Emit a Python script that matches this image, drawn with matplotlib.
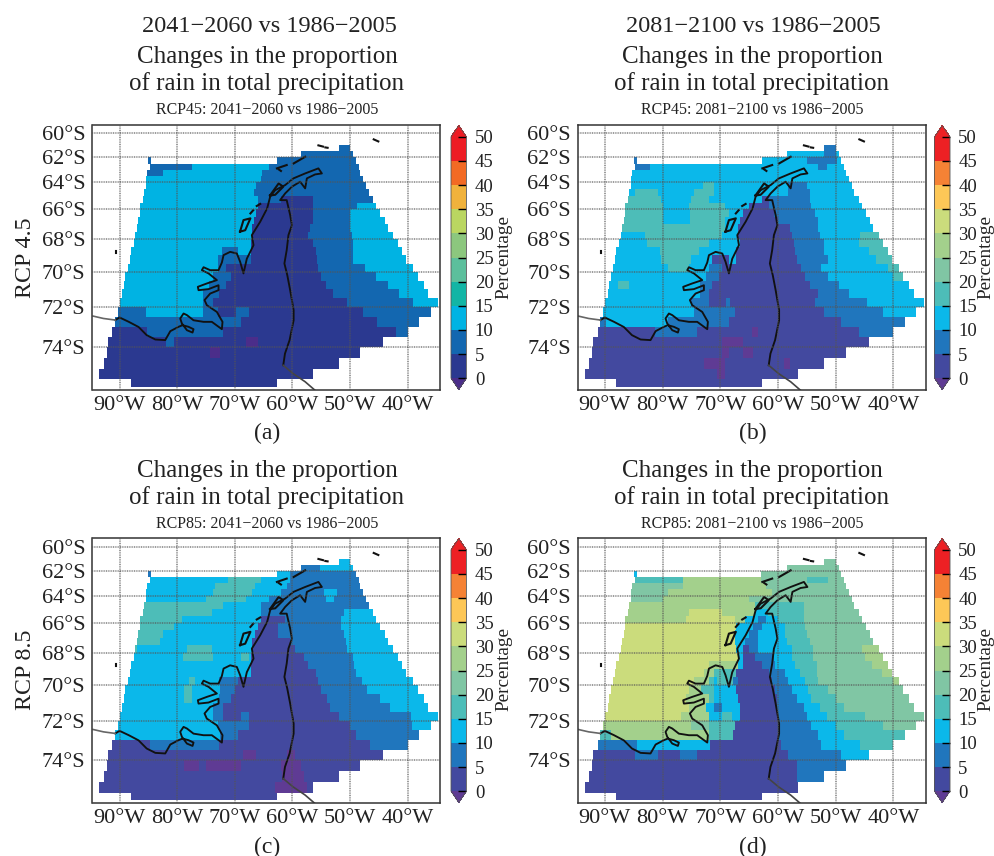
import numpy as np
import matplotlib
matplotlib.use("Agg")
import matplotlib.pyplot as plt
from matplotlib.colors import ListedColormap, BoundaryNorm

plt.rcParams['font.family'] = ['Liberation Serif', 'DejaVu Serif']

W, H = 995, 856

# 0.5 deg latitude rows, 61S to 76S
LAT_EDGES = np.append(np.arange(-61, -75.9, -0.5), -75.85)
LON_EDGES = np.arange(-95, -34, 0.25)
LON_C = 0.5 * (LON_EDGES[:-1] + LON_EDGES[1:])

# map latitude axis
LAT_TABLE = [-76, -74, -72, -70, -68, -66, -64, -62, -60, -59.28]
POS_TABLE = [0, 130, 249, 355, 453, 542, 624, 698, 770, 796]

# west and east edge of the domain in each row, degrees west
DOMAIN_W = [52.0, 58.4, 85, 84.7, 85.3, 85.4, 85.5, 85.7, 86.1, 86.4, 86.6, 86.8, 87, 87.3, 87.6,
            87.9, 88.3, 88.6, 89, 89.3, 89.6, 89.9, 90.2, 90.8, 91.3, 91.9, 92.3, 92.8, 93.4, 88]
DOMAIN_E = [49.9, 49.4, 49, 48.6, 48.2, 47.8, 47.3, 46.7, 46.1, 45.5, 44.8, 44.1, 43.4, 42.5, 41.8,
            41, 40.2, 39, 38.2, 37.3, 36.4, 34.7, 36.1, 37.9, 39.9, 44.2, 48.3, 51.9, 56.4, 62.8]

# each row: class, west longitude where it ends, class, ...
# class k means 5k to 5k+5 percent, p is below zero, . is no data
RCP45_MID = [
    "1", "1", "1 84.5 . 62.8 1",
    "1 77.5 2 63.9 1", "1 82.4 2 65.3 1", "2 65.6 1", "2 66.2 1", "2 66.8 1",
    "2 65.9 1 62.1 0 56.6 1", "2 65.9 0 56.6 1 48.8 2", "2 66.2 0 56.6 1 49.9 2",
    "2 66.8 0 56.6 1 49.9 2", "2 67 0 56.9 1 49.9 2", "2 67 0 57.2 1 49.7 2",
    "2 67.2 0 56.6 1 49.4 2", "2 72.3 1 69.6 2 67.3 0 56 1 49.4 2",
    "2 73.1 1 67.3 0 55.8 1 49.4 2", "2 73.1 1 71.4 0 55.5 1 47.4 2",
    "2 73.7 1 70.8 0 54.9 1 45.4 2", "2 74.6 1 71.4 0 54.3 1 43.4 2",
    "2 75.4 1 72.8 0 52.9 1 41.6 2", "2 75.4 1 73.7 0 50.6 1 39 2",
    "1 85.4 2 75.4 1 73.1 0 69.7 1 67.6 0 47.8 1", "1 69.1 0 45.2 1",
    "0 85.3 1 72 0 41.9 1", "0 82 1 80.5 0 68 p 66 0", "0 74.3 p 72.5 0", "0", "0", "0",
]
RCP45_END = [
    "1", "2 51.9 1 50 2", "1 84.5 . 62.8 2 55 1 49.7 2",
    "1 82.2 2 53 1 51.5 2", "2", "2", "2 72.9 3 70.9 2 58.2 1 55 2",
    "2 84.8 3 80.7 2 74.4 3 70.9 2 58.2 1 54.5 2",
    "3 80.2 2 75 3 72 2 62.8 0 61.5 1 54.4 2",
    "3 79.9 2 75.5 3 69.2 2 65.1 0 61.4 1 54.2 2",
    "3 79.9 2 75.3 3 68.6 2 66 0 60.8 1 53.6 2",
    "3 79.9 2 75.3 3 69.2 2 66.5 0 60 1 53 2",
    "3 69.2 2 67 0 58 1 53 2",
    "2 83 3 69.8 2 66.9 0 57.6 1 52.7 2 45.8 3",
    "2 82.8 3 72.1 2 66.6 0 57.3 1 52.1 2 46 3",
    "2 80.5 3 73.8 2 67.2 0 57 1 52.1 2 44.3 3",
    "2 80.2 3 75 2 71.5 0 68.6 2 67.3 0 56.7 1 51.3 2 43 3",
    "2 79 3 75.5 2 72 1 69.8 0 55.9 1 52.4 2 41 3",
    "2 72.4 1 70.3 0 55.3 1 51.3 2 40 3",
    "2 87.7 3 85.7 2 73.5 1 71.5 0 54.5 1 49.5 2",
    "2 73.5 1 72 0 53 1 47.8 2",
    "2 75 1 72.1 0 69 1 68.2 0 53.6 1 44.6 2",
    "2 74.4 1 67.4 0 51.9 1 41.7 2",
    "1 89.7 2 79 1 68.6 0 49 1",
    "0 81.3 1 73.9 0 64.6 p 63.4 0 46 1",
    "0 69.8 p 66 0", "0 69.8 p 68.6 0 66 p 64.3 0",
    "0 72.7 p 69.2 0 59 p 58 0", "0 70.6 p 69.2 0", "0",
]
RCP85_MID = [
    "2", "1 55.3 2", "1 84.5 . 62.7 2 60.5 1",
    "2 71.3 3 65.6 2 60.4 1", "2 73.4 3 66.4 2 61 1",
    "2 73.7 3 67 2 62 1 54.6 2 52.3 1", "2 75 3 68.1 2 64 1 54.3 2 52.7 1",
    "3 72 2 65.5 1", "3 74 2 65.5 1 51 2", "3 79.2 2 65.6 0 61.3 1 51.5 2",
    "3 80.5 2 66 0 62.4 1 51.4 2", "3 82.4 2 66.5 0 62.4 1 51.1 2",
    "3 83 2 67 0 60.5 1 50.8 2", "3 87 2 78.3 3 74 2 67 0 59.5 1 50.5 2",
    "2 78.9 3 73.7 2 69.1 3 67.6 2 67.2 0 58.1 1 49.4 2",
    "2 67.3 0 57.2 1 49.2 2", "2 67.3 0 56 1 49 2",
    "2 78.1 3 77 2 72.8 1 69.5 0 55.5 1 48 2",
    "2 78.7 3 77.5 2 72.5 1 70 0 54.9 1 47 2",
    "2 78.7 3 77.5 2 72.8 1 70.8 0 54 1 44.8 2",
    "2 73.7 1 72 0 53.5 1 43 2",
    "2 73.7 1 72 0 69.1 1 67.6 0 52 1 39.6 2",
    "2 73 1 67.6 0 50 1 39.3 2",
    "2 72.6 1 69.4 0 49 1", "0 84.7 1 72.8 0 46.5 1",
    "0 68.5 p 66.2 0 61 p 59.5 0",
    "0 78.7 p 76.2 0 75.1 p 69.1 0 62.1 p 58.4 0",
    "0 61.8 p 58.1 0", "0 63 p 57.4 0", "0",
]
RCP85_END = [
    "4", "4", "2 84.5 . 62.9 4",
    "3 76.4 5 62.9 4 55 3 51.3 4", "4 76.4 5 62 4", "4 79 5 61 4", "4 80 5 65 4",
    "5 64 3 55.6 4", "5 75.5 6 69.8 5 64 2 61.7 3 55.6 4",
    "5 76 6 67.5 5 65.7 2 63.4 1 62 2 59.9 3 55.6 4",
    "6 67.2 2 64.3 1 62.8 2 58.8 3 55.3 4",
    "6 67.5 2 65.1 1 63.4 2 58.7 3 55 4",
    "6 67.5 2 65.7 1 63.4 2 58.5 3 54.5 4",
    "6 67.2 2 66 0 64.9 1 63.4 2 57.5 3 54 4 45.5 5",
    "6 67 2 66 0 64 1 60.8 2 57.6 3 53.9 4 44.9 5",
    "6 72.1 5 67 2 66 0 62.8 1 60.5 2 57 3 53.3 4 43.7 5",
    "6 72.7 5 71 3 67.2 0 61.4 1 58.8 2 56.2 3 53.3 4 42 5",
    "6 74.4 5 72 3 71 2 70.4 3 67.7 1 66.9 0 61.1 1 58.2 2 55.3 3 53 4 40 5",
    "6 75.5 5 73.2 3 70.9 2 67.2 0 60.5 1 57.6 2 54.7 3 51.3 4",
    "6 76 5 72.1 3 70.9 2 66.9 0 60.2 1 56.8 2 54.2 3 50.1 4",
    "6 75.5 5 72.6 2 70.9 1 69.8 2 66.6 0 60.2 1 55.6 2 52.7 3 48.4 4",
    "6 76.7 5 72.1 2 69.8 3 68 2 66.6 0 60 1 55 2 51.6 3 45 4",
    "5 75 4 72 3 67.5 0 60 1 54.2 2 50.1 3 41.7 4",
    "3 89 5 72 3 67.7 0 59.9 1 53 2 48.4 3",
    "1 84.5 2 71.8 0 59.4 1 52.4 2 45.8 3",
    "0 84.8 1 80.7 0 77 1 74.1 0 58.2 1 49 2",
    "0 56.8 1", "0 56.8 1", "0", "0",
]

# coastlines, degrees west and degrees south
COAST_W_LON = [90.75, 90, 88.4, 86.7, 85.3, 83.8, 82.08, 81.2, 79.77, 79.08, 78.04, 77.17, 77.34, 78.32, 79.19, 79.48,
               78.9, 78.32, 77.17, 75.43, 73.99, 72.25, 72.14, 73.12, 74.86, 75.26, 74.28, 72.83, 72.83, 74.57,
               76.3, 76.42, 74.86, 73.12, 74.57, 75.72, 75.43, 74.28, 72.83, 72.25, 71.96, 70.81, 69.65, 69.08,
               68.5, 67.92, 66.76, 67.05, 65.6, 64.4, 63.87, 63, 61.27, 59.83, 57.8, 55.5, 54.9, 56.07, 57.5,
               57.8, 58.67, 60.1, 61.27, 62.14, 61, 60.4, 60.1, 60.7, 61, 61.4, 60.9, 60.4, 59.8, 59.8, 60.5,
               61.3, 61.6]
COAST_W_LAT = [72.65, 72.52, 72.74, 73, 73.41, 73.63, 73.66, 73.21, 72.99, 72.91, 72.99, 73.11, 73.28, 73.16, 72.82, 72.57,
               72.32, 72.4, 72.66, 72.74, 72.74, 73.11, 72.74, 72.24, 71.89, 71.6, 71.23, 71.04, 70.76, 70.98,
               71.04, 70.85, 70.66, 70.47, 70.09, 69.9, 69.72, 69.9, 69.9, 69.43, 68.98, 68.78, 68.88, 69.39,
               70.09, 69.2, 68.37, 67.73, 66.83, 65.93, 65.07, 64.59, 64.22, 63.7, 63.3, 62.89, 63.3, 63.38, 63.7,
               64.46, 63.97, 64.34, 64.83, 65.32, 65.32, 66.38, 67.06, 67.73, 68.67, 69.49, 70.19, 71.04, 72.15,
               72.66, 73.66, 74.31, 74.85]
COAST_GREY_A_LON = [94.6, 92.8, 90.75]
COAST_GREY_A_LAT = [72.45, 72.57, 72.65]
COAST_GREY_B_LON = [61.6, 59.9, 57.8, 56.1]
COAST_GREY_B_LAT = [74.85, 75.23, 75.61, 76]
ISLANDS = [
    ([69.1, 68.5, 67.3, 68.2, 69.1], [67.5, 66.72, 66.6, 67.4, 67.5]),
    ([63.9, 62.4, 61.6, 63, 63.9], [64.98, 64.1, 64.34, 64.93, 64.98]),
    ([66.2, 65.6], [65.75, 65.6]),
    ([67.3, 66.8], [66.27, 66.05]),
    ([62.7, 61], [62.89, 62.62]),
    ([59.8, 57.8], [62.49, 61.95]),
    ([62.4, 62], [62.97, 63.1]),
    ([55.5, 54.7], [61.0, 61.1]),
    ([54.3, 53.9], [61.17, 61.2]),
    ([45.9, 45.1], [60.5, 60.67]),
    ([90.6, 90.6], [68.72, 68.85]),
]

LON_TICKS = [-90, -80, -70, -60, -50, -40]
LAT_TICKS = [-60, -62, -64, -66, -68, -70, -72, -74]
CBAR_LEVELS = list(range(0, 55, 5))

COLORS_DEEP = ['#2b3990', '#1367b0', '#00b3e3', '#12b5a5', '#5cbf9c',
               '#8cc77e', '#bad661', '#f0b23c', '#f26a24', '#ed1c24']
COLORS_SOFT = ['#43499f', '#2076bd', '#0bb8ea', '#4dbdb8', '#80c6a4',
               '#a3d08c', '#cbdc7c', '#fdc757', '#f58235', '#ed2024']
UNDER_DEEP = '#4b2d8a'
UNDER_SOFT = '#5f3b94'


def build_field(rows):
    z = np.full((len(rows), len(LON_C)), np.nan)
    for i, row in enumerate(rows):
        parts = row.split()
        classes = parts[0::2]
        edges = [DOMAIN_W[i]] + [float(p) for p in parts[1::2]] + [DOMAIN_E[i]]
        for j, c in enumerate(classes):
            if c == '.':
                continue
            value = -2.5 if c == 'p' else 5 * int(c) + 2.5
            z[i, (LON_C > -edges[j]) & (LON_C < -edges[j + 1])] = value
    return z


def lat_forward(y):
    return np.interp(y, LAT_TABLE, POS_TABLE)


def lat_inverse(y):
    return np.interp(y, POS_TABLE, LAT_TABLE)


def put_text(x, y, s, size, **kw):
    fig.text(x / W, 1 - y / H, s, fontsize=size, ha='center', va='center', color='#222222', **kw)


def draw_panel(rows, box, colors, under, cbar_x, cbar_y):
    left, top, right, bottom = box
    ax = fig.add_axes([left / W, 1 - bottom / H, (right - left) / W, (bottom - top) / H])
    ax.set_yscale('function', functions=(lat_forward, lat_inverse))
    cmap = ListedColormap(colors)
    cmap.set_under(under)
    cmap.set_over(colors[-1])
    norm = BoundaryNorm(CBAR_LEVELS, cmap.N)
    mesh = ax.pcolormesh(LON_EDGES, LAT_EDGES, build_field(rows), cmap=cmap, norm=norm, shading='flat')

    ax.plot(-np.array(COAST_W_LON), -np.array(COAST_W_LAT), color='#111111', lw=1.35)
    ax.plot(-np.array(COAST_GREY_A_LON), -np.array(COAST_GREY_A_LAT), color='#666666', lw=1.2)
    ax.plot(-np.array(COAST_GREY_B_LON), -np.array(COAST_GREY_B_LAT), color='#444444', lw=1.2)
    for lon, lat in ISLANDS:
        ax.plot(-np.array(lon), -np.array(lat), color='#111111', lw=1.5)

    ax.set_xlim(-94.7, -34.4)
    ax.set_ylim(-75.99, -59.28)
    ax.set_xticks(LON_TICKS)
    ax.set_xticklabels([f"{-v}°W" for v in LON_TICKS])
    ax.set_yticks(LAT_TICKS)
    ax.set_yticklabels([f"{-v}°S" for v in LAT_TICKS])
    ax.minorticks_off()
    ax.tick_params(length=0, labelsize=16, labelcolor='#222222')
    ax.tick_params(axis='x', pad=4)
    ax.tick_params(axis='y', pad=5)
    ax.grid(True, color='#555555', lw=1.4, ls=(0, (0.5, 0.4)), alpha=0.6)
    ax.set_axisbelow(False)
    for s in ax.spines.values():
        s.set_color('#333333')
        s.set_linewidth(1.1)

    # the box holds the two end triangles too
    cax = fig.add_axes([cbar_x / W, 1 - (cbar_y + 252.5) / H, 15.5 / W, 264 / H])
    cb = fig.colorbar(mesh, cax=cax, extend='both', extendfrac=0.047, ticks=CBAR_LEVELS, spacing='proportional')
    cb.ax.tick_params(direction='in', length=6, width=1, labelsize=13.5, pad=6, labelcolor='#222222')
    cb.outline.set_linewidth(0.6)
    cb.outline.set_edgecolor('#555555')
    cb.ax.set_yticklabels([str(v) for v in CBAR_LEVELS])


fig = plt.figure(figsize=(W / 100, H / 100), dpi=100, facecolor='white')

draw_panel(RCP45_MID, (92.5, 124.7, 440, 390), COLORS_DEEP, UNDER_DEEP, 451, 137)
draw_panel(RCP45_END, (577.7, 124.7, 925.7, 390), COLORS_SOFT, UNDER_SOFT, 934.5, 137)
draw_panel(RCP85_MID, (92.5, 538.3, 440, 803.3), COLORS_SOFT, UNDER_SOFT, 451, 550)
draw_panel(RCP85_END, (577.7, 538.3, 925.7, 803.3), COLORS_SOFT, UNDER_SOFT, 934.5, 550)

put_text(269, 26, "2041−2060 vs 1986−2005", 17.5)
put_text(753, 26, "2081−2100 vs 1986−2005", 17.5)

for cx, top_y, sub in [(267, 57, "RCP45: 2041−2060 vs 1986−2005"), (752, 57, "RCP45: 2081−2100 vs 1986−2005"),
                       (267, 471, "RCP85: 2041−2060 vs 1986−2005"), (752, 471, "RCP85: 2081−2100 vs 1986−2005")]:
    put_text(cx, top_y, "Changes in the proportion", 18)
    put_text(cx, top_y + 27, "of rain in total precipitation", 18)
    put_text(cx, top_y + 53, sub, 11.5)

put_text(267, 433, "(a)", 17)
put_text(753, 433, "(b)", 17)
put_text(267, 847, "(c)", 17)
put_text(753, 847, "(d)", 17)

put_text(26, 258, "RCP 4.5", 17.2, rotation=90)
put_text(26, 670, "RCP 8.5", 17.2, rotation=90)

for x, y in [(504, 257), (986, 257), (504, 669), (986, 669)]:
    put_text(x, y, "Percentage", 13.8, rotation=90)

fig.savefig('out.png', dpi=100)
